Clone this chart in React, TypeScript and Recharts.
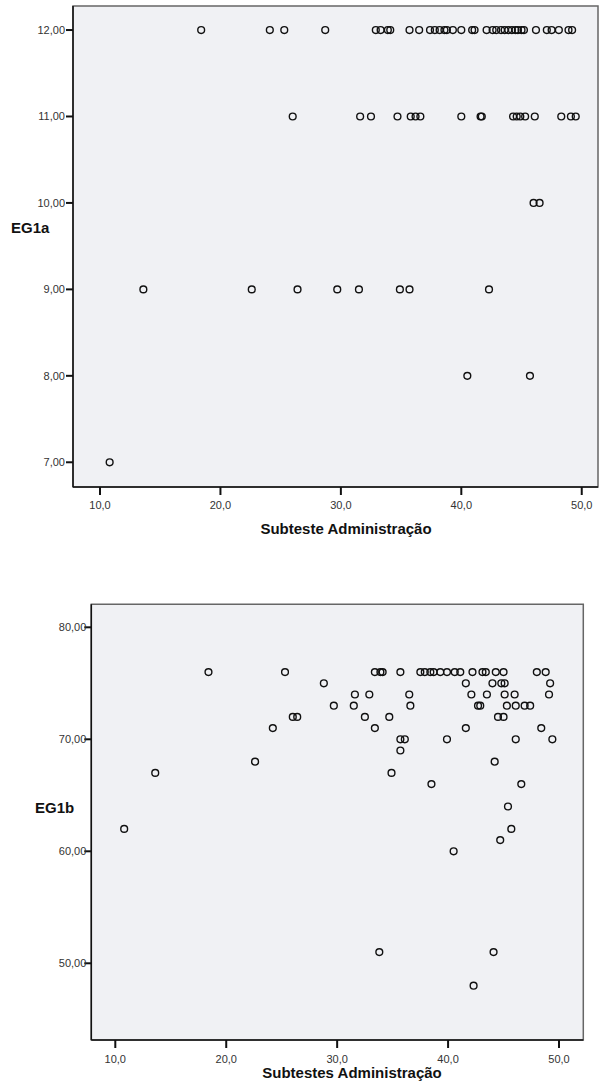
import React from 'react';
import {
  ScatterChart,
  Scatter,
  XAxis,
  YAxis,
  ReferenceArea,
} from 'recharts';

// EG1a vs Subteste Administração, grouped by EG1a level
const eg1a12 = [18.4, 24.1, 25.3, 28.7, 32.9, 33.3, 33.9, 34.1, 35.7, 36.5, 37.4, 37.8, 38.2, 38.6, 38.8, 39.3, 40.0, 40.9, 41.1, 42.1, 42.6, 42.9, 43.3, 43.6, 43.9, 44.2, 44.5, 44.7, 45.0, 45.2, 46.2, 47.1, 47.5, 48.1, 48.9, 49.2];
const eg1a11 = [26.0, 31.6, 32.5, 34.7, 35.8, 36.2, 36.6, 40.0, 41.6, 41.7, 44.3, 44.6, 44.9, 45.3, 46.1, 48.3, 49.1, 49.5];
const eg1a10 = [46.0, 46.5];
const eg1a9 = [13.6, 22.6, 26.4, 29.7, 31.5, 34.9, 35.7, 42.3];
const eg1a8 = [40.5, 45.7];
const eg1a7 = [10.8];

// EG1b vs Subtestes Administração, grouped by EG1b level
const eg1b76 = [18.4, 25.3, 33.4, 33.9, 34.1, 35.7, 37.5, 37.9, 38.4, 38.7, 39.3, 39.9, 40.6, 41.1, 42.2, 43.1, 43.4, 44.3, 45.0, 48.0, 48.8];
const eg1b75 = [28.8, 41.6, 44.0, 44.8, 45.1, 49.2];
const eg1b74 = [31.6, 32.9, 36.5, 42.1, 43.5, 45.1, 46.0, 49.1];
const eg1b73 = [29.7, 31.5, 36.6, 42.7, 42.9, 45.3, 46.1, 46.9, 47.4];
const eg1b72 = [26.0, 26.4, 32.5, 34.7, 44.5, 45.0];
const eg1b71 = [24.2, 33.4, 41.6, 48.4];
const eg1b70 = [35.7, 36.1, 39.9, 46.1, 49.4];
const eg1b69 = [35.7];
const eg1b68 = [22.6, 44.2];
const eg1b67 = [13.6, 34.9];
const eg1b66 = [38.5, 46.6];
const eg1b64 = [45.4];
const eg1b62 = [10.8, 45.7];
const eg1b61 = [44.7];
const eg1b60 = [40.5];
const eg1b51 = [33.8, 44.1];
const eg1b48 = [42.3];

const xTicks = [10, 20, 30, 40, 50];
const eg1aTicks = [7, 8, 9, 10, 11, 12];
const eg1bTicks = [50, 60, 70, 80];

type Row = [number, number[]];

const eg1aRows: Row[] = [[12, eg1a12], [11, eg1a11], [10, eg1a10], [9, eg1a9], [8, eg1a8], [7, eg1a7]];
const eg1bRows: Row[] = [
  [76, eg1b76], [75, eg1b75], [74, eg1b74], [73, eg1b73], [72, eg1b72], [71, eg1b71],
  [70, eg1b70], [69, eg1b69], [68, eg1b68], [67, eg1b67], [66, eg1b66], [64, eg1b64],
  [62, eg1b62], [61, eg1b61], [60, eg1b60], [51, eg1b51], [48, eg1b48],
];

const toPoints = (rows: Row[]) => rows.flatMap(([y, xs]) => xs.map((x) => ({ x, y })));

const fmt1 = (v: number) => v.toFixed(1).replace('.', ',');
const fmt2 = (v: number) => v.toFixed(2).replace('.', ',');

const FONT = '"Liberation Sans", Arial, sans-serif';
const tickStyle = { fontSize: 11, fill: '#333', fontFamily: FONT };
const titleStyle = { fontSize: 15, fontWeight: 'bold', fill: '#111', fontFamily: FONT };

// hollow SPSS-style marker
const Ring = (p: any) => (
  <circle cx={p.cx} cy={p.cy} r={3.4} fill="none" stroke="#111" strokeWidth={1.4} />
);

interface PlotProps {
  data: { x: number; y: number }[];
  width: number;
  height: number;
  margin: { top: number; right: number; bottom: number; left: number };
  xDomain: [number, number];
  yDomain: [number, number];
  yTicks: number[];
  yWidth: number;
  xHeight: number;
  yTickMargin: number;
  xTickMargin: number;
  xTitle: string;
  yTitle: string;
  xTitleDx: number;
  xTitleOffset: number;
  yTitleOffset: number;
  yTitleDy: number;
}

function Plot(p: PlotProps) {
  return (
    <ScatterChart width={p.width} height={p.height} margin={p.margin}>
      <ReferenceArea
        x1={p.xDomain[0]}
        x2={p.xDomain[1]}
        y1={p.yDomain[0]}
        y2={p.yDomain[1]}
        fill="#F0F1F4"
        fillOpacity={1}
        stroke="#666"
        strokeWidth={1.5}
        ifOverflow="visible"
      />
      <XAxis
        type="number"
        dataKey="x"
        domain={p.xDomain}
        ticks={xTicks}
        allowDataOverflow
        height={p.xHeight}
        tickFormatter={fmt1}
        tick={tickStyle}
        tickSize={8}
        tickMargin={p.xTickMargin}
        axisLine={{ stroke: '#111', strokeWidth: 1.5 }}
        tickLine={{ stroke: '#111', strokeWidth: 2 }}
        label={{ value: p.xTitle, position: 'insideBottom', offset: p.xTitleOffset, dx: p.xTitleDx, ...titleStyle }}
      />
      <YAxis
        type="number"
        dataKey="y"
        domain={p.yDomain}
        ticks={p.yTicks}
        allowDataOverflow
        width={p.yWidth}
        tickFormatter={fmt2}
        tick={tickStyle}
        tickSize={7}
        tickMargin={p.yTickMargin}
        axisLine={{ stroke: '#111', strokeWidth: 1.5 }}
        tickLine={{ stroke: '#111', strokeWidth: 2 }}
        label={{ value: p.yTitle, position: 'insideLeft', offset: p.yTitleOffset, dy: p.yTitleDy, ...titleStyle }}
      />
      <Scatter data={p.data} shape={Ring} isAnimationActive={false} />
    </ScatterChart>
  );
}

export default function App() {
  return (
    <div style={{ position: 'absolute', left: 0, top: 0, width: 599, height: 1088, background: '#fff', fontFamily: FONT }}>
      <div style={{ position: 'absolute', left: 0, top: 0 }}>
        <Plot
          data={toPoints(eg1aRows)}
          width={599}
          height={545}
          margin={{ top: 6, right: 1, bottom: 0, left: 0 }}
          xDomain={[7.757, 51.35]}
          yDomain={[6.714, 12.278]}
          yTicks={eg1aTicks}
          yWidth={73}
          xHeight={58}
          yTickMargin={1}
          xTickMargin={6}
          xTitle="Subteste Administração"
          yTitle="EG1a"
          xTitleDx={10.5}
          xTitleOffset={11}
          yTitleOffset={11}
          yTitleDy={-19}
        />
      </div>
      <div style={{ position: 'absolute', left: 0, top: 560 }}>
        <Plot
          data={toPoints(eg1bRows)}
          width={599}
          height={528}
          margin={{ top: 44.3, right: 15.7, bottom: 0, left: 0 }}
          xDomain={[7.836, 52.19]}
          yDomain={[43.15, 82.054]}
          yTicks={eg1bTicks}
          yWidth={91.3}
          xHeight={48}
          yTickMargin={-2}
          xTickMargin={7}
          xTitle="Subtestes Administração"
          yTitle="EG1b"
          xTitleDx={14.7}
          xTitleOffset={10}
          yTitleOffset={35}
          yTitleDy={-14}
        />
      </div>
    </div>
  );
}
